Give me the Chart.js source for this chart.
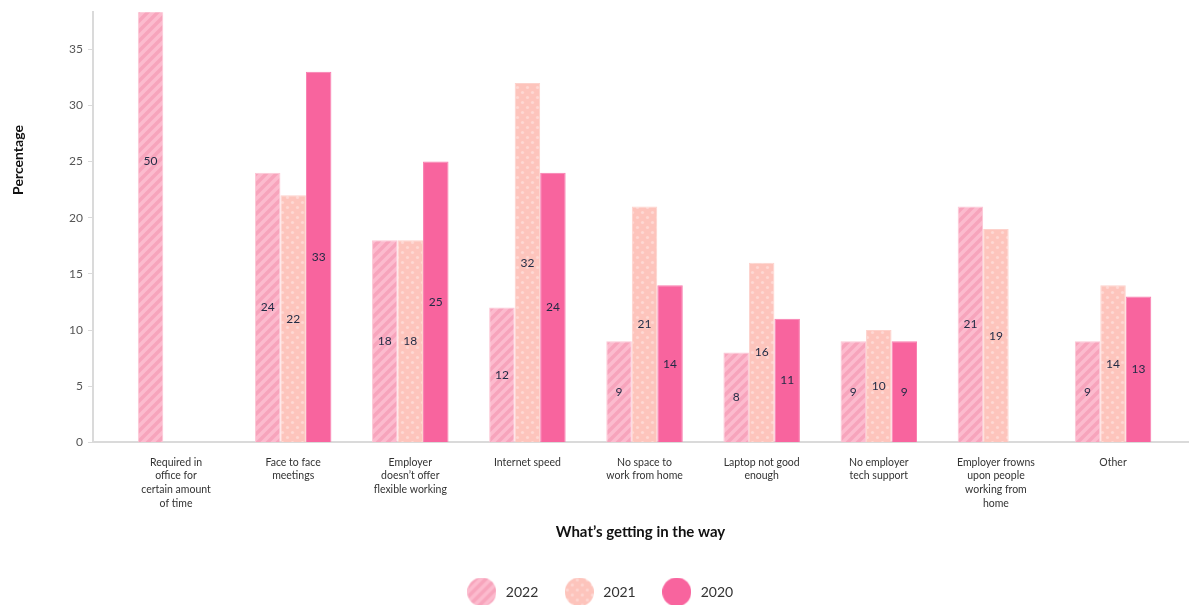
<!DOCTYPE html>
<html>
<head>
<meta charset="utf-8">
<script src="https://cdn.jsdelivr.net/npm/chart.js@4.4.1/dist/chart.umd.min.js"></script>
<style>
  html, body { margin: 0; padding: 0; background: #fff; }
  #wrap { width: 1190px; height: 605px; position: relative; }
</style>
</head>
<body>
<div id="wrap"><canvas id="chart"></canvas></div>
<script>
  /* Chart data */
  var categories = [
    ['Required in', 'office for', 'certain amount', 'of time'],
    ['Face to face', 'meetings'],
    ['Employer', 'doesn\u2019t offer', 'flexible working'],
    ['Internet speed'],
    ['No space to', 'work from home'],
    ['Laptop not good', 'enough'],
    ['No employer', 'tech support'],
    ['Employer frowns', 'upon people', 'working from', 'home'],
    ['Other']
  ];
  var years = ['2022', '2021', '2020'];
  var values2022 = [50, 24, 18, 12, 9, 8, 9, 21, 9];
  var values2021 = [null, 22, 18, 32, 21, 16, 10, 19, 14];
  var values2020 = [null, 33, 25, 24, 14, 11, 9, null, 13];
  var yTicks = [0, 5, 10, 15, 20, 25, 30, 35];

  var FONT = 'Lato, "Open Sans", sans-serif';

  /* Bar fills: stripes, dots, solid */
  function stripePattern() {
    var c = document.createElement('canvas');
    c.width = 10; c.height = 10;
    var x = c.getContext('2d');
    x.fillStyle = '#fcbbce';
    x.fillRect(0, 0, 10, 10);
    x.strokeStyle = '#f7a4bc';
    x.lineWidth = 3.5;
    x.beginPath();
    for (var k = -10; k <= 20; k += 10) {
      x.moveTo(k - 5, 15);
      x.lineTo(k + 15, -5);
    }
    x.stroke();
    return x.createPattern(c, 'repeat');
  }

  function dotPattern() {
    var c = document.createElement('canvas');
    c.width = 10; c.height = 10;
    var x = c.getContext('2d');
    x.fillStyle = '#fdc4bc';
    x.fillRect(0, 0, 10, 10);
    x.fillStyle = '#fed8d3';
    [[2.5, 2.5], [7.5, 7.5]].forEach(function (p) {
      x.beginPath();
      x.arc(p[0], p[1], 1.6, 0, Math.PI * 2);
      x.fill();
    });
    return x.createPattern(c, 'repeat');
  }

  var fills = [stripePattern(), dotPattern(), '#f8649e'];
  var borders = ['#fcc6d5', '#fdd2cc', '#f97cae'];

  function legendDot(fill) {
    var c = document.createElement('canvas');
    c.width = 29; c.height = 29;
    var x = c.getContext('2d');
    x.fillStyle = fill;
    x.beginPath();
    x.arc(14.5, 14.5, 14.5, 0, Math.PI * 2);
    x.fill();
    return c;
  }

  var seriesValues = [values2022, values2021, values2020];
  var datasets = years.map(function (y, i) {
    return {
      label: y,
      data: seriesValues[i],
      backgroundColor: fills[i],
      borderColor: borders[i],
      borderWidth: 1,
      pointStyle: legendDot(fills[i]),
      barPercentage: 1,
      categoryPercentage: 0.653
    };
  });

  /* Value label drawn at the middle of each bar */
  var valueLabels = {
    id: 'valueLabels',
    afterDatasetsDraw: function (chart) {
      var ctx = chart.ctx;
      var yScale = chart.scales.y;
      ctx.save();
      ctx.font = '12px ' + FONT;
      ctx.fillStyle = '#1f2a44';
      ctx.textAlign = 'center';
      ctx.textBaseline = 'middle';
      chart.data.datasets.forEach(function (ds, di) {
        var meta = chart.getDatasetMeta(di);
        meta.data.forEach(function (bar, i) {
          var v = ds.data[i];
          if (v === null || v === undefined) return;
          ctx.fillText(String(v), bar.x, yScale.getPixelForValue(v / 2));
        });
      });
      ctx.restore();
    }
  };

  /* Rotated y axis title, placed as in the reference */
  var yTitle = {
    id: 'yTitle',
    afterDraw: function (chart) {
      var ctx = chart.ctx;
      ctx.save();
      ctx.translate(18, 160);
      ctx.rotate(-Math.PI / 2);
      ctx.font = 'bold 14px ' + FONT;
      ctx.fillStyle = '#111';
      ctx.textAlign = 'center';
      ctx.textBaseline = 'middle';
      ctx.fillText('Percentage', 0, 0);
      ctx.restore();
    }
  };

  new Chart(document.getElementById('chart'), {
    type: 'bar',
    data: {
      labels: categories.map(function (_, i) { return i; }),
      datasets: datasets
    },
    plugins: [valueLabels, yTitle],
    options: {
      responsive: true,
      maintainAspectRatio: false,
      animation: false,
      layout: { padding: { top: 10, right: 2, left: 10, bottom: -4 } },
      plugins: {
        tooltip: { enabled: false },
        legend: {
          position: 'bottom',
          labels: {
            usePointStyle: true,
            pointStyleWidth: 34,
            padding: 24,
            color: '#333',
            font: { family: FONT, size: 14 }
          }
        }
      },
      scales: {
        x: {
          type: 'linear',
          offset: false,
          min: -0.709,
          max: 8.64,
          afterBuildTicks: function (scale) {
            scale.ticks = categories.map(function (_, i) { return { value: i }; });
          },
          grid: { display: false, drawTicks: false },
          border: { display: true, color: '#dadada', width: 2 },
          ticks: {
            autoSkip: false,
            maxRotation: 0,
            padding: 13,
            color: '#333',
            font: { family: FONT, size: 10.5, lineHeight: 1.3 },
            callback: function (v) { return categories[v]; }
          },
          title: {
            display: true,
            text: 'What\u2019s getting in the way',
            color: '#111',
            font: { family: FONT, size: 15, weight: 'bold' },
            padding: { top: 0, bottom: 20 }
          }
        },
        y: {
          min: 0,
          max: 38.3,
          afterFit: function (scale) { scale.width = 83; },
          afterBuildTicks: function (scale) {
            scale.ticks = yTicks.map(function (v) { return { value: v }; });
          },
          grid: { drawOnChartArea: false, drawTicks: true, tickLength: 5, color: '#dadada' },
          border: { display: true, color: '#dadada', width: 2 },
          ticks: {
            padding: 5,
            color: '#555',
            font: { family: FONT, size: 12 }
          }
        }
      }
    }
  });
</script>
</body>
</html>
